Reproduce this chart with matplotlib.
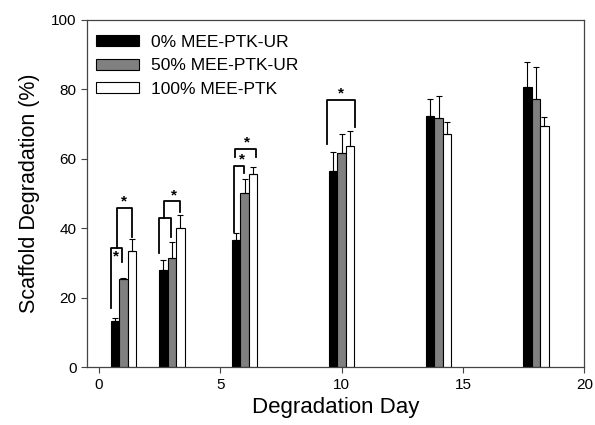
import matplotlib
matplotlib.use("Agg")
import matplotlib.pyplot as plt
import numpy as np

plt.rcParams['font.family'] = ['Liberation Sans', 'DejaVu Sans']

# degradation days and mean values (%)
days = [1, 3, 6, 10, 14, 18]
ur0 = [13.3, 28.1, 36.6, 56.5, 72.3, 80.6]
ur0_err = [1.0, 2.7, 2.0, 5.5, 4.8, 7.3]
ur50 = [25.3, 31.5, 50.1, 61.6, 71.7, 77.1]
ur50_err = [0.5, 4.6, 4.0, 5.7, 6.4, 9.3]
ptk100 = [33.5, 40.1, 55.5, 63.7, 67.3, 69.6]
ptk100_err = [3.5, 3.7, 2.3, 4.3, 3.3, 2.5]
labels = ['0% MEE-PTK-UR', '50% MEE-PTK-UR', '100% MEE-PTK']

# significance brackets: x_left, x_right, y_left_bottom, y_top, y_right_bottom, star (x, y) or None
brackets = [
    (0.49, 0.93, 17.1, 34.2, 30.3, (0.70, 32.0)),
    (0.73, 1.34, 34.2, 45.9, 37.5, (1.02, 47.6)),
    (2.48, 2.96, 32.8, 43.0, 37.5, None),
    (2.67, 3.33, 43.0, 47.8, 44.8, (3.10, 49.6)),
    (5.57, 5.97, 38.9, 58.0, 55.8, (5.90, 59.9)),
    (5.60, 6.46, 60.6, 62.8, 60.6, (6.08, 64.6)),
    (9.41, 10.53, 64.2, 76.9, 69.2, (9.98, 78.7)),
]

fig = plt.figure(figsize=(5.95, 4.25), dpi=100)
ax = fig.add_axes([0.146, 0.136, 0.836, 0.817])

w = 0.35
x = np.array(days, dtype=float)
ekw = dict(ecolor='black', elinewidth=0.8, capsize=2, capthick=0.8)
series = [(ur0, ur0_err, 'black'), (ur50, ur50_err, '#808080'), (ptk100, ptk100_err, 'white')]
for i, (vals, err, col) in enumerate(series):
    pos = x + (i - 1) * w
    ax.bar(pos, vals, width=w, color=col, edgecolor='black', linewidth=0.8,
           yerr=[np.zeros(len(err)), err], error_kw=ekw, label=labels[i], zorder=2)

for xl, xr, yl, yt, yr, star in brackets:
    ax.plot([xl, xl, xr, xr], [yl, yt, yt, yr], color='black', lw=1.3, zorder=3)
    if star is not None:
        ax.text(star[0], star[1], '*', ha='center', va='center', fontsize=11,
                fontweight='bold', zorder=4)

ax.set_xlim(-0.5, 20)
ax.set_ylim(0, 100)
ax.set_xticks([0, 5, 10, 15, 20])
ax.set_yticks([0, 20, 40, 60, 80, 100])
ax.tick_params(labelsize=11, length=4, width=0.8, color='#444444')
for s in ax.spines.values():
    s.set_color('#444444')
    s.set_linewidth(0.9)
ax.set_xlabel('Degradation Day', fontsize=16, labelpad=4)
ax.set_ylabel('Scaffold Degradation (%)', fontsize=15.5, labelpad=8)

ax.legend(loc='upper left', bbox_to_anchor=(-0.012, 1.0), frameon=False, fontsize=12.5,
          handlelength=2.5, handleheight=0.6, handletextpad=0.7, labelspacing=0.5,
          borderaxespad=0.45)

fig.savefig('out.png', dpi=100)
